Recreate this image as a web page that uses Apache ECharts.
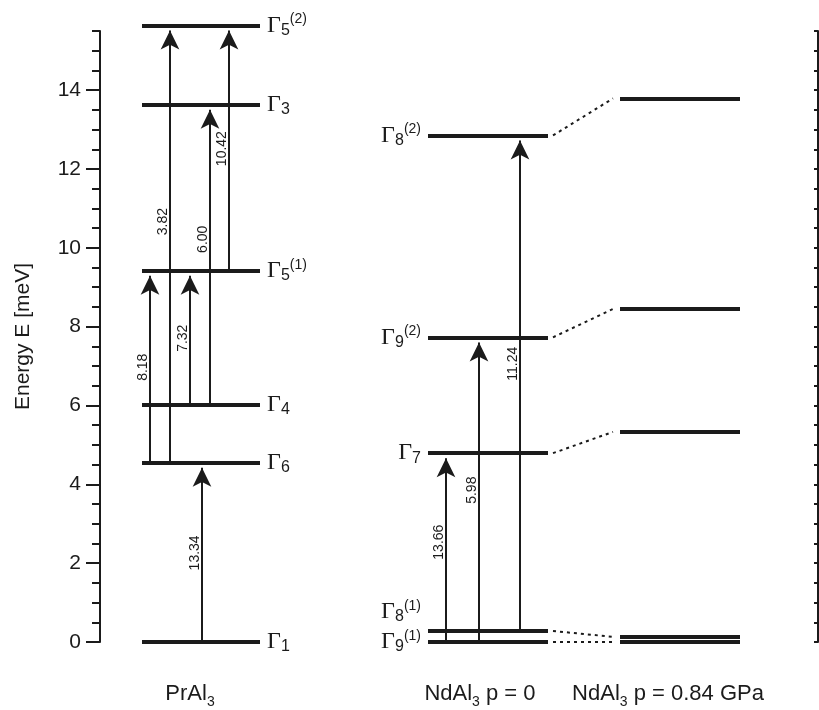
<!DOCTYPE html>
<html>
<head>
<meta charset="utf-8">
<title>CEF level schemes</title>
<script src="https://cdn.jsdelivr.net/npm/echarts@6/dist/echarts.min.js"></script>
<style>
  html, body { margin: 0; padding: 0; background: #fff; }
  #main { width: 819px; height: 710px; }
</style>
</head>
<body>
<div id="main"></div>
<script>
    // level energies in meV
    var prLevels = [0, 4.55, 6.02, 9.42, 13.63, 15.64];
    var prSub = ['1', '6', '4', '5', '3', '5'];
    var prSup = ['', '', '', '(1)', '', '(2)'];

    var ndLevels = [0, 0.28, 4.79, 7.73, 12.85];
    var ndSub = ['9', '8', '7', '9', '8'];
    var ndSup = ['(1)', '(1)', '', '(2)', '(2)'];

    var ndPLevels = [0, 0.13, 5.33, 8.45, 13.79];

    // transitions: level index from -> to, and the printed number
    var prFrom = [1, 1, 2, 2, 3, 0];
    var prTo = [3, 5, 3, 4, 5, 1];
    var prText = ['8.18', '3.82', '7.32', '6.00', '10.42', '13.34'];

    var ndFrom = [0, 0, 1];
    var ndTo = [2, 3, 4];
    var ndText = ['13.66', '5.98', '11.24'];

    var yTicks = [0, 2, 4, 6, 8, 10, 12, 14];
    var columnLabels = ['{m|PrAl}{s|3}', '{m|NdAl}{s|3}{m| p = 0}', '{m|NdAl}{s|3}{m| p = 0.84 GPa}'];

    // layout (x axis units), not data
    var colPr = [42, 160];
    var colNd = [328, 448];
    var colNdP = [520, 640];
    var prArrowX = [50, 70, 90, 110, 129, 102];
    var ndArrowX = [346, 379, 420];
    // label slide along the arrow (px, towards the head)
    var prTextShift = [0, 23, 0, 16, 0, 0];
    var ndTextShift = [6, 0, 20];
    var colCenters = [90, 380, 568];
    var ndLabelShift = [0, -19, 0, 0, 0];
    var tipGap = 0.13;

    var ink = '#1b1b1b';

    var gammaRich = {
        g: { fontFamily: 'Liberation Serif', fontSize: 24, lineHeight: 26, color: ink, verticalAlign: 'middle' },
        s: { fontFamily: 'Liberation Sans', fontSize: 16, lineHeight: 16, color: ink, verticalAlign: 'bottom' },
        p: { fontFamily: 'Liberation Sans', fontSize: 14, lineHeight: 14, color: ink, verticalAlign: 'top' }
    };

    function gamma(sub, sup) {
        return '{g|\u0393}{s|' + sub + '}' + (sup ? '{p|' + sup + '}' : '');
    }

    function levelData(levels, col, subs, sups, pos, shifts) {
        return levels.map(function (e, i) {
            var item = { coords: [[col[0], e], [col[1], e]] };
            if (pos) {
                item.label = {
                    show: true,
                    position: pos,
                    distance: 7,
                    offset: [0, shifts ? shifts[i] : 0],
                    formatter: gamma(subs[i], sups[i]),
                    rich: gammaRich
                };
            }
            return item;
        });
    }

    function arrowData(levels, from, to, xs, texts, shifts) {
        return from.map(function (f, i) {
            return {
                name: texts[i],
                coords: [[xs[i], levels[f]], [xs[i], levels[to[i]] - tipGap]],
                label: { offset: [shifts[i], 0] }
            };
        });
    }

    var levelLines = []
        .concat(levelData(prLevels, colPr, prSub, prSup, 'end'))
        .concat(levelData(ndLevels, colNd, ndSub, ndSup, 'start', ndLabelShift))
        .concat(levelData(ndPLevels, colNdP));

    var links = ndLevels.map(function (e, i) {
        return { coords: [[colNd[1] + 5, e], [colNdP[0] - 7, ndPLevels[i]]] };
    });

    var arrows = arrowData(prLevels, prFrom, prTo, prArrowX, prText, prTextShift)
        .concat(arrowData(ndLevels, ndFrom, ndTo, ndArrowX, ndText, ndTextShift));

    var myChart = echarts.init(document.getElementById('main'));

    var option = {
        animation: false,
        backgroundColor: '#fff',
        grid: { left: 100, right: 1, top: 31, bottom: 68, containLabel: false, outerBoundsMode: 'none' },
        xAxis: {
            type: 'value',
            min: 0,
            max: 718,
            axisLine: { show: false },
            axisTick: { show: false },
            splitLine: { show: false },
            axisLabel: {
                customValues: colCenters,
                margin: 37,
                formatter: function (v) {
                    return columnLabels[colCenters.indexOf(v)] || '';
                },
                rich: {
                    m: { fontFamily: 'Liberation Sans', fontSize: 22, lineHeight: 30, color: ink, verticalAlign: 'middle' },
                    s: { fontFamily: 'Liberation Sans', fontSize: 14, lineHeight: 14, color: ink, verticalAlign: 'bottom' }
                }
            }
        },
        yAxis: [
            {
                type: 'value', min: 0, max: 15.5, interval: 0.5, position: 'left',
                axisLine: { show: true, lineStyle: { color: ink, width: 2 } },
                axisTick: { show: true, length: 8, lineStyle: { color: ink, width: 2 } },
                axisLabel: { show: false },
                splitLine: { show: false }
            },
            {
                type: 'value', min: 0, max: 15.5, position: 'left',
                name: 'Energy E [meV]',
                nameLocation: 'middle',
                nameGap: 66,
                nameTextStyle: { fontFamily: 'Liberation Sans', fontSize: 21, color: ink },
                axisLine: { show: false },
                axisTick: { show: true, customValues: yTicks, length: 14, lineStyle: { color: ink, width: 2 } },
                axisLabel: { customValues: yTicks, margin: 19, fontFamily: 'Liberation Sans', fontSize: 21, color: ink },
                splitLine: { show: false }
            },
            {
                type: 'value', min: 0, max: 15.5, interval: 0.5, position: 'right',
                axisLine: { show: true, lineStyle: { color: ink, width: 2 } },
                axisTick: { show: true, inside: true, length: 4, lineStyle: { color: ink, width: 2 } },
                axisLabel: { show: false },
                splitLine: { show: false }
            }
        ],
        series: [
            {
                name: 'levels',
                type: 'lines',
                coordinateSystem: 'cartesian2d',
                clip: false,
                silent: true,
                symbol: 'none',
                lineStyle: { color: ink, width: 4, opacity: 1 },
                data: levelLines
            },
            {
                name: 'links',
                type: 'lines',
                coordinateSystem: 'cartesian2d',
                silent: true,
                symbol: 'none',
                lineStyle: { color: ink, width: 2, type: [3, 4], opacity: 1 },
                data: links
            },
            {
                name: 'transitions',
                type: 'lines',
                coordinateSystem: 'cartesian2d',
                clip: false,
                silent: true,
                symbol: ['none', 'arrow'],
                symbolSize: [0, [14, 19]],
                lineStyle: { color: ink, width: 2, opacity: 1 },
                label: {
                    show: true,
                    position: 'middle',
                    distance: 2,
                    formatter: '{b}',
                    fontFamily: 'Liberation Sans',
                    fontSize: 14,
                    color: ink
                },
                data: arrows
            }
        ]
    };

    myChart.setOption(option);
</script>
</body>
</html>
